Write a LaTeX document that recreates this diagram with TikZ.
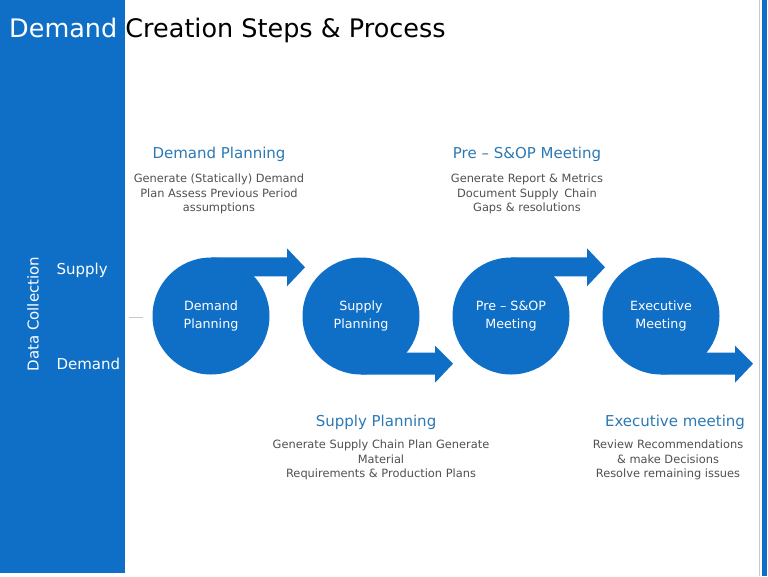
\documentclass[tikz,border=0pt]{standalone}
\usepackage{fontspec}
\setmainfont{DejaVu Sans}
\usetikzlibrary{positioning,calc}
\definecolor{flowblue}{HTML}{0F6FC6}
\definecolor{headblue}{HTML}{2B78B4}
\definecolor{bodygray}{HTML}{505050}
\definecolor{rulegray}{HTML}{C8C8C8}
\tikzset{
  stepcircle/.style={
    circle, fill=flowblue, minimum size=117pt, inner sep=0pt,
    text=white, font=\fontsize{12.7}{18}\selectfont, align=center
  },
  headtext/.style={text=headblue, font=\fontsize{15}{18}\selectfont},
  bodytext/.style={
    text=bodygray, font=\fontsize{11.4}{14.5}\selectfont,
    align=center, inner sep=0pt
  },
  sidetext/.style={text=white, font=\fontsize{15}{18}\selectfont, anchor=west},
}

\begin{document}
\begin{tikzpicture}[x=1pt, y=-1pt]
  \useasboundingbox (0,0) rectangle (768,576);
  % side panel and right edge
  \fill[flowblue] (0,0) rectangle (125,573);
  \draw[rulegray, line width=0.6pt] (759,0) -- (759,576);
  \fill[flowblue] (762,0) rectangle (767,576);
  \node[anchor=west, font=\fontsize{25.5}{30}\selectfont, inner sep=0pt] (title) at (9,30)
    {\textcolor{white}{Demand} Creation Steps \& Process};
  \node[sidetext, rotate=90, anchor=center] (dc) at (33,314) {Data Collection};
  \node[sidetext] (sup) at (53,270) {Supply};
  \node[sidetext] (dem) at (53,364) {Demand};
  \coordinate (tick) at (136,317);
  \draw[rulegray, line width=0.8pt] ([xshift=-7pt]tick) -- ([xshift=7pt]tick);
  % steps
  \node[stepcircle] (dp) at (211,316) {Demand\\Planning};
  \node[stepcircle] (sp) at (361,316) {Supply\\Planning};
  \node[stepcircle] (pm) at (511,316) {Pre -- S\&OP\\Meeting};
  \node[stepcircle] (em) at (661,316) {Executive\\Meeting};
  \foreach \c in {dp,pm} {
    \fill[flowblue] (\c.north) -- ++(76,0) -- ++(0,-9) -- ++(18,19)
      -- ++(-18,19) -- ++(0,-10) -- ++(-76,0) -- cycle;
  }
  \foreach \c in {sp,em} {
    \fill[flowblue] (\c.south) -- ++(74,0) -- ++(0,8) -- ++(18,-19)
      -- ++(-18,-18) -- ++(0,7) -- ++(-74,0) -- cycle;
  }
  % descriptions
  \node[headtext] (dph) at (219,154) {Demand Planning};
  \node[bodytext, below=9pt of dph] (dpb)
    {Generate (Statically) Demand\\Plan Assess Previous Period\\assumptions};
  \node[headtext] (pmh) at (527,154) {Pre -- S\&OP Meeting};
  \node[bodytext, below=9pt of pmh] (pmb)
    {Generate Report \& Metrics\\Document Supply\, Chain\\Gaps \& resolutions};
  \node[headtext] (sph) at (376,422) {Supply Planning};
  \node[bodytext, below=7pt of sph, xshift=5pt] (spb)
    {Generate Supply Chain Plan Generate\\Material\\Requirements \& Production Plans};
  \node[headtext] (emh) at (675,422) {Executive meeting};
  \node[bodytext, below=7pt of emh, xshift=-7pt] (emb)
    {Review Recommendations\\\& make Decisions\\Resolve remaining issues};
\end{tikzpicture}
\end{document}
